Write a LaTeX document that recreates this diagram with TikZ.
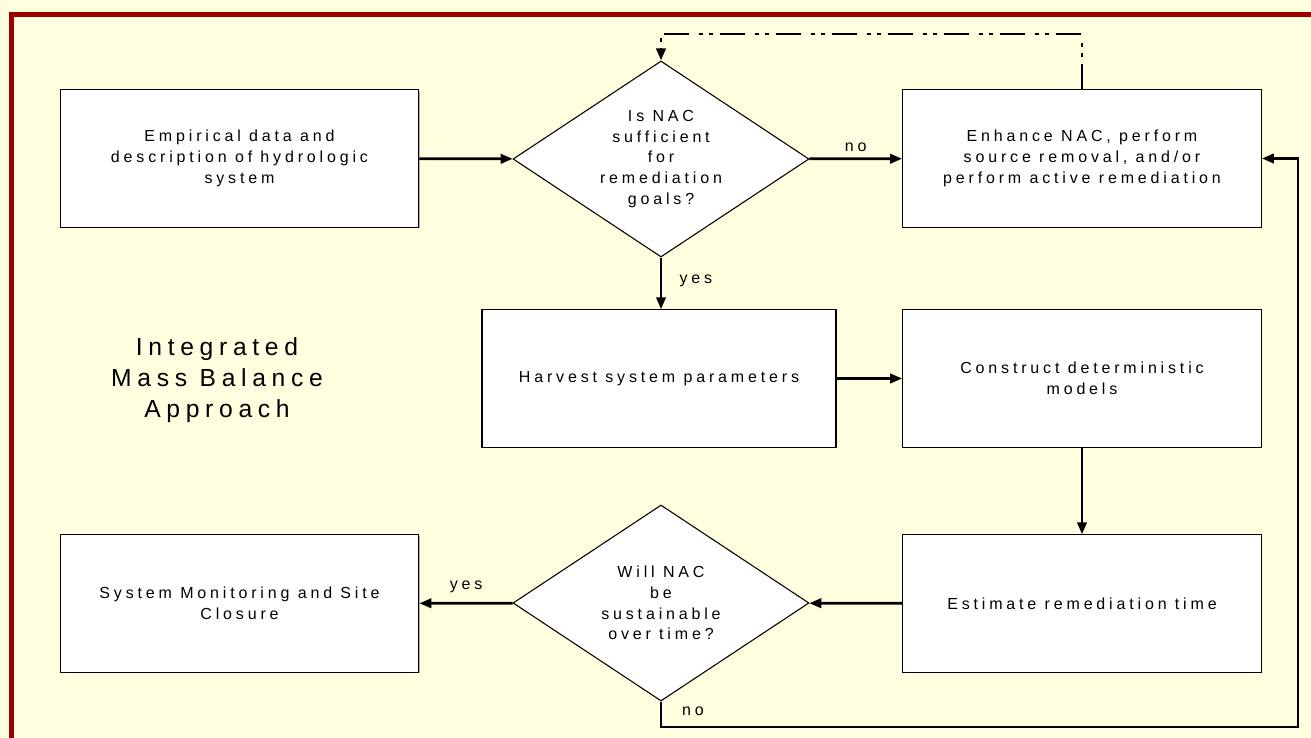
\documentclass[tikz,border=0pt]{standalone}
\usepackage{fontspec}
\setmainfont{Liberation Sans}
\newfontfamily\spacedfont[LetterSpace=24]{Liberation Sans}
\newfontfamily\titlefont[LetterSpace=23]{Liberation Sans}
\usetikzlibrary{shapes.geometric, arrows.meta, shadows}
\definecolor{paper}{HTML}{FFFFDF}
\definecolor{framered}{HTML}{9B0000}

\begin{document}
\begin{tikzpicture}[
  x=0.75pt, y=-0.75pt,
  box/.style={rectangle, draw, fill=white, line width=0.8pt, minimum width=269pt, minimum height=103pt,
    align=center, drop shadow={shadow xshift=0.8pt, shadow yshift=-0.8pt, fill=gray!80, opacity=0.8},
    font={\spacedfont\fontsize{12}{15.5}\selectfont}},
  decision/.style={diamond, draw, fill=white, line width=0.8pt, minimum width=222pt, minimum height=147pt,
    inner sep=0pt, aspect=1.5, align=center, font={\spacedfont\fontsize{12}{15.5}\selectfont}},
  flow/.style={line width=2pt, -{Triangle[length=9pt,width=7pt]}},
  loopback/.style={flow, line width=2.2pt, dash pattern=on 19pt off 5pt on 3pt off 5pt on 3pt off 7pt},
  tag/.style={font={\spacedfont\fontsize{12}{14}\selectfont}, inner sep=1pt}
]
\useasboundingbox (0,0) rectangle (1311,738);
\fill[paper] (0,0) rectangle (1311,738);
\draw[framered, line width=3.75pt] (11,738) -- (11,14.5) -- (1311,14.5);

\node[box] (data) at (239.5,158.5) {Empirical data and\\description of hydrologic\\system};
\node[decision] (suff) at (661,159) {Is NAC\\sufficient\\for\\remediation\\goals?};
\node[box] (enhance) at (1082,158.5) {Enhance NAC, perform\\source removal, and/or\\perform active remediation};
\node[box, minimum width=265.5pt] (harvest) at (659,378.5) {Harvest system parameters};
\node[box] (models) at (1082,378.5) {Construct deterministic\\models};
\node[box] (rtime) at (1082,603.5) {Estimate remediation time};
\node[decision] (sust) at (661,603) {Will NAC\\be\\sustainable\\over time?};
\node[box] (closure) at (239.5,603.5) {System Monitoring and Site\\Closure};
\node[align=center, font={\titlefont\fontsize{18.5}{23}\selectfont}] (title) at (217,380) {Integrated\\Mass Balance\\Approach};

\coordinate (looptop) at (661,34);
\coordinate (corner) at (1298,727);

\draw[flow] (data) -- (suff);
\draw[flow] (suff) -- node[tag, above=3pt] (no1) {no} (enhance);
\draw[flow] (suff) -- node[tag, right=12pt, pos=0.45] (yes1) {yes} (suff |- harvest.north);
\draw[flow] (harvest) -- (models);
\draw[flow] (models) -- (rtime);
\draw[flow] (rtime) -- (sust);
\draw[flow] (sust) -- node[tag, above=6pt] (yes2) {yes} (closure);
\draw[flow] (sust.south) |- (corner) |- (enhance.east);
\node[tag] (no2) at (693,711) {no};
\draw[loopback] (enhance.north) |- (looptop) -- (suff.north);
\end{tikzpicture}
\end{document}
